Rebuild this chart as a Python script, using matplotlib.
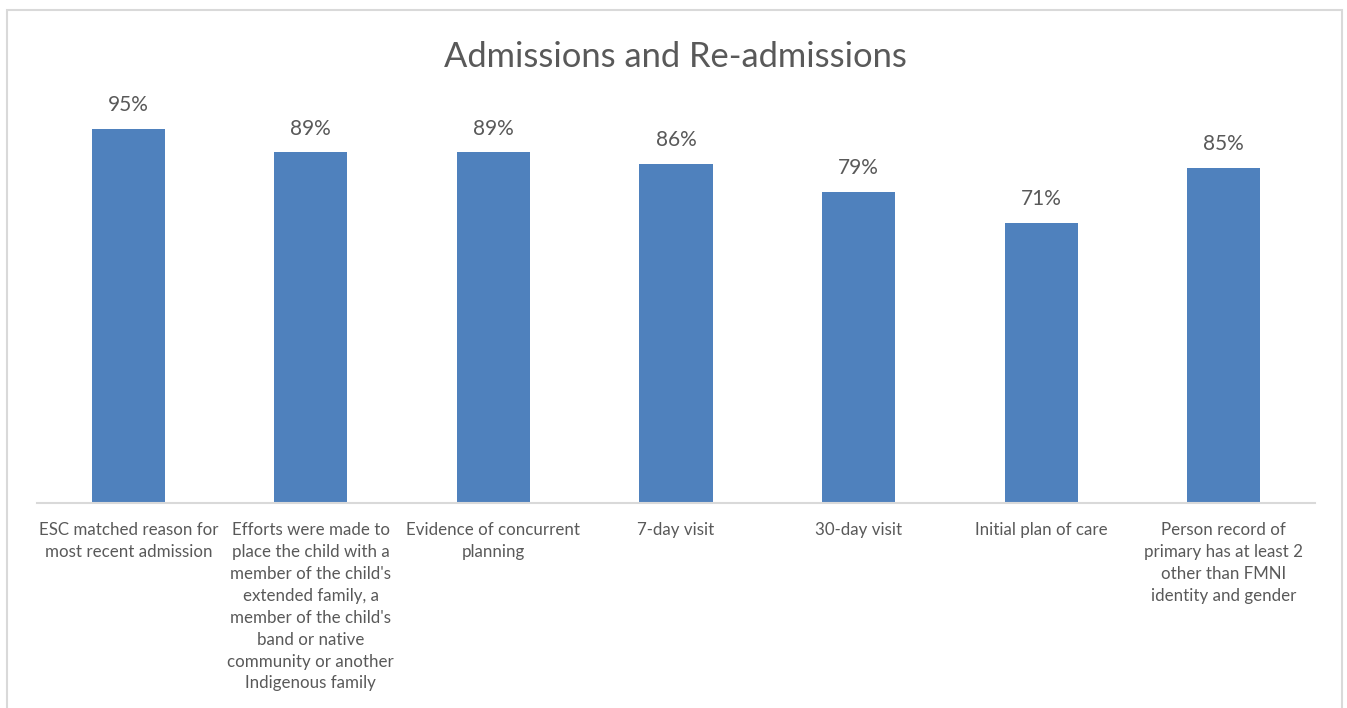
import numpy as np
import matplotlib
matplotlib.use('agg')
import matplotlib.pyplot as plt
from matplotlib.patches import Rectangle

plt.rcParams['font.family'] = ['Lato', 'DejaVu Sans']

# Data
categories = ["ESC matched reason for\nmost recent admission",
              "Efforts were made to\nplace the child with a\nmember of the child's\nextended family, a\nmember of the child's\nband or native\ncommunity or another\nIndigenous family",
              "Evidence of concurrent\nplanning",
              "7-day visit",
              "30-day visit",
              "Initial plan of care",
              "Person record of\nprimary has at least 2\nother than FMNI\nidentity and gender"]
values = [0.95, 0.89, 0.89, 0.86, 0.79, 0.71, 0.85]

bar_color = '#4F81BD'
text_color = '#595959'

fig = plt.figure(figsize=(13.47, 7.08), dpi=100)
ax = fig.add_axes([37/1347, 1-503/708, (1315-37)/1347, (503-109)/708])

x = np.arange(len(values))
bars = ax.bar(x, values, width=0.4, color=bar_color)

for xi, v in zip(x, values):
    ax.text(xi, v + 0.035, '{:.0f}%'.format(v*100), ha='center', va='bottom',
            fontsize=15, color=text_color)

ax.set_xlim(-0.5, len(values)-0.5)
ax.set_ylim(0, 1.0)
ax.set_yticks([])
ax.set_xticks(x)
ax.set_xticklabels(categories, fontsize=12.2, color=text_color, linespacing=1.45, va='top')
ax.tick_params(axis='x', length=0, pad=14)
for s in ['top', 'left', 'right']:
    ax.spines[s].set_visible(False)
ax.spines['bottom'].set_color('#D9D9D9')
ax.spines['bottom'].set_linewidth(1.5)

fig.text(675/1347, 1-57/708, 'Admissions and Re-admissions', ha='center', va='center',
         fontsize=24.8, color=text_color)

# chart border
fig.patches.append(Rectangle((7/1347, -0.05), (1342-7)/1347, 1-10/708+0.05,
                             transform=fig.transFigure, fill=False,
                             edgecolor='#D9D9D9', linewidth=1.5))

fig.savefig('out.png', dpi=100)
